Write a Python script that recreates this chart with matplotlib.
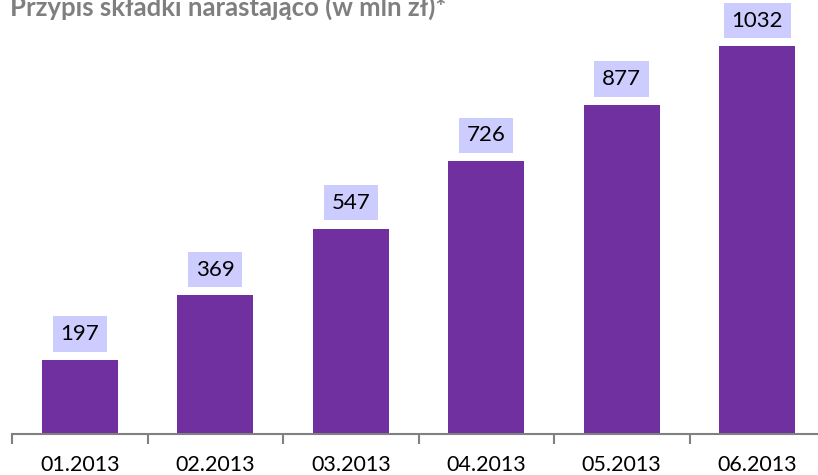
import matplotlib
matplotlib.use("Agg")
import matplotlib.pyplot as plt

categories = ["01.2013", "02.2013", "03.2013", "04.2013", "05.2013", "06.2013"]
values = [197, 369, 547, 726, 877, 1032]
title = "Przypis składki narastająco (w mln zł)*"

plt.rcParams['font.family'] = ['Lato', 'DejaVu Sans']

fig = plt.figure(figsize=(8.18, 4.75), dpi=100)
ax = fig.add_axes([12/818, 1 - 434/475, 6 * 135.5 / 818, 434/475])

x = list(range(len(categories)))
ax.bar(x, values, width=0.56, color="#7030A0", zorder=2)
ax.set_xlim(-0.5, len(categories) - 0.5)
ax.set_ylim(0, 434 / 0.3756)

for xi, v in zip(x, values):
    ax.annotate(str(v), (xi, v), xytext=(0, 11.4), textcoords="offset points",
                ha="center", va="bottom", fontsize=16, color="black",
                bbox=dict(boxstyle="square,pad=0.35", fc="#CCCCFF", ec="none"))

ax.set_xticks([i - 0.5 for i in range(len(categories) + 1)], minor=False)
ax.set_xticklabels([""] * (len(categories) + 1))
ax.set_xticks(x, minor=True)
ax.set_xticklabels(categories, minor=True, fontsize=15.5)
ax.tick_params(axis="x", which="major", length=7, width=1.5, color="#808080", direction="out")
ax.tick_params(axis="x", which="minor", length=0, pad=15)
ax.set_yticks([])
for s in ["top", "right", "left"]:
    ax.spines[s].set_visible(False)
ax.spines["bottom"].set_color("#808080")
ax.spines["bottom"].set_linewidth(1.5)

fig.text(10/818, 1 - 16/475, title, fontsize=18.5, fontweight="bold", color="#7F7F7F",
         ha="left", va="baseline")

fig.savefig("out.png", dpi=100)
